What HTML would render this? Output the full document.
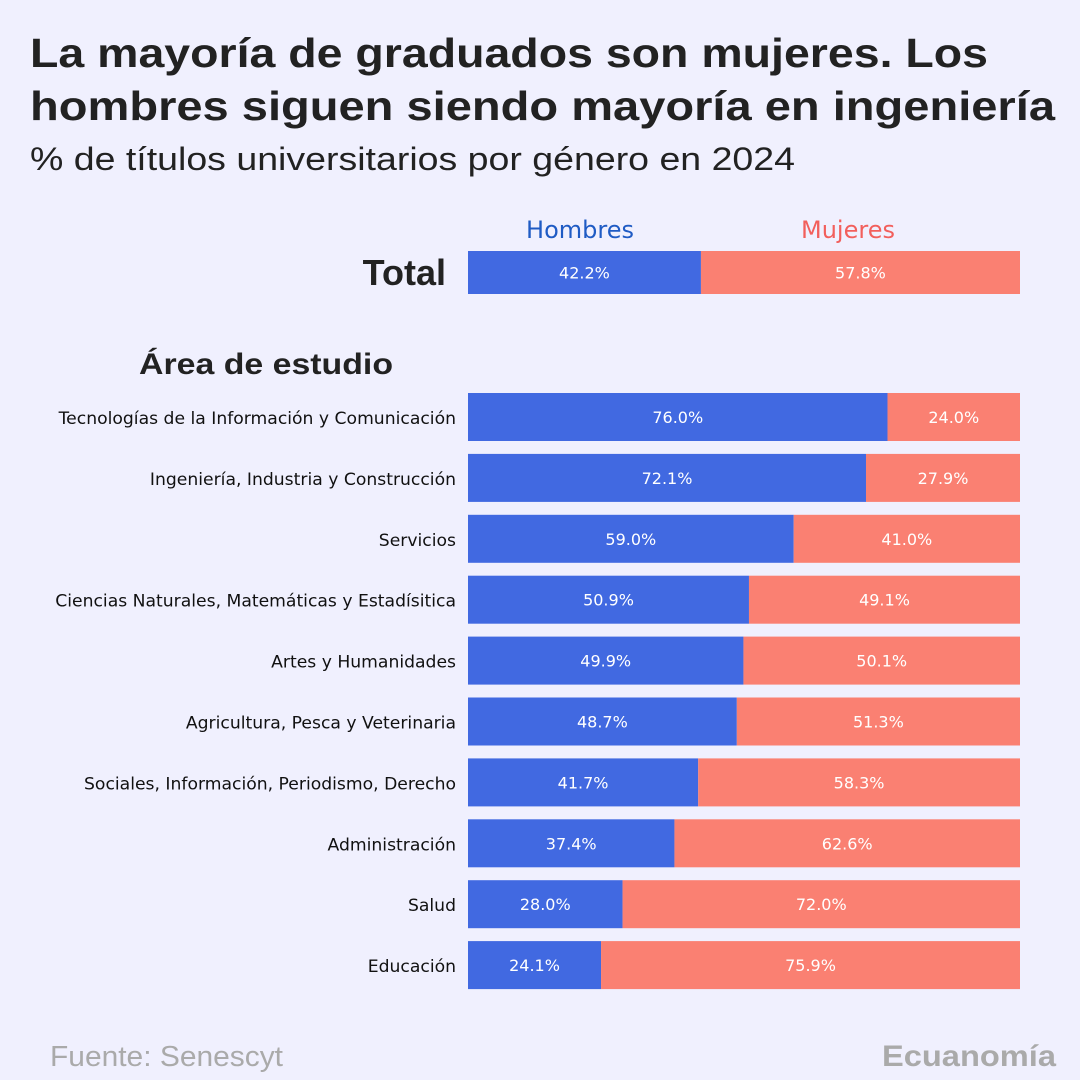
<!DOCTYPE html>
<html><head><meta charset="utf-8"><style>
html,body{margin:0;padding:0;background:#f0f0fe;}
svg{display:block;font-family:"Liberation Sans","DejaVu Sans",sans-serif;}
</style></head><body>
<svg id="chart" width="1080" height="1080" viewBox="0 0 1080 1080">
<rect width="1080" height="1080" fill="#f0f0fe"/>
<text x="30" y="67" font-size="41" font-weight="bold" fill="#222" textLength="958" lengthAdjust="spacingAndGlyphs">La mayoría de graduados son mujeres. Los</text>
<text x="30" y="120" font-size="41" font-weight="bold" fill="#222" textLength="1025" lengthAdjust="spacingAndGlyphs">hombres siguen siendo mayoría en ingeniería</text>
<text x="30" y="170" font-size="32" fill="#222" textLength="765" lengthAdjust="spacingAndGlyphs">% de títulos universitarios por género en 2024</text>
<text x="580" y="238" font-size="24" fill="#1f5bc4" text-anchor="middle" font-family="DejaVu Sans, sans-serif">Hombres</text>
<text x="848" y="238" font-size="24" fill="#f25f5c" text-anchor="middle" font-family="DejaVu Sans, sans-serif">Mujeres</text>
<text x="446" y="285" font-size="36" font-weight="bold" fill="#222" text-anchor="end">Total</text>
<text x="139" y="374" font-size="30" font-weight="bold" fill="#222" textLength="254" lengthAdjust="spacingAndGlyphs">Área de estudio</text>
<text x="50" y="1066" font-size="29" fill="#aaa" textLength="233" lengthAdjust="spacingAndGlyphs">Fuente: Senescyt</text>
<text x="1056" y="1066" font-size="30" font-weight="bold" fill="#aaa" text-anchor="end" textLength="174" lengthAdjust="spacingAndGlyphs">Ecuanomía</text>
<g id="bars"></g>
</svg>
<script>
const categories = ["Tecnologías de la Información y Comunicación","Ingeniería, Industria y Construcción","Servicios","Ciencias Naturales, Matemáticas y Estadísitica","Artes y Humanidades","Agricultura, Pesca y Veterinaria","Sociales, Información, Periodismo, Derecho","Administración","Salud","Educación"];
const hombres = [76.0,72.1,59.0,50.9,49.9,48.7,41.7,37.4,28.0,24.1];
const mujeres = [24.0,27.9,41.0,49.1,50.1,51.3,58.3,62.6,72.0,75.9];
const totalHombres = 42.2;
const totalMujeres = 57.8;

const NS = "http://www.w3.org/2000/svg";
const g = document.getElementById("bars");
const x0 = 468, W = 552;
const xs = v => x0 + v / 100 * W;
const rowY = i => 393 + i * 60.9;
function el(tag, attrs) {
  const e = document.createElementNS(NS, tag);
  for (const k in attrs) e.setAttribute(k, attrs[k]);
  g.appendChild(e); return e;
}
function drawRow(h, m, y, hgt, key) {
  const b1 = el("rect", {x: xs(0), y: y, width: xs(h) - xs(0), height: hgt, fill: "#4169e1"});
  
  
  const b2 = el("rect", {x: xs(h), y: y, width: xs(h + m) - xs(h), height: hgt, fill: "#fa8072"});
  
  
  const t1 = el("text", {x: (xs(0) + xs(h)) / 2, y: y + hgt / 2 + 6, "font-size": 16, fill: "#fff", "text-anchor": "middle", "font-family": "DejaVu Sans, sans-serif"});
  t1.textContent = h.toFixed(1) + "%";
  
  
  const t2 = el("text", {x: (xs(h) + xs(h + m)) / 2, y: y + hgt / 2 + 6, "font-size": 16, fill: "#fff", "text-anchor": "middle", "font-family": "DejaVu Sans, sans-serif"});
  t2.textContent = m.toFixed(1) + "%";
  
  
}
drawRow(totalHombres, totalMujeres, 251, 43, 'total');
categories.forEach((c, i) => {
  const y = rowY(i);
  drawRow(hombres[i], mujeres[i], y, 48, i);
  const t = el("text", {x: 456, y: y + 31, "font-size": 17.2, fill: "#111", "text-anchor": "end", "font-family": "DejaVu Sans, sans-serif"});
  t.textContent = c;
  
  
});
</script>
</body></html>
